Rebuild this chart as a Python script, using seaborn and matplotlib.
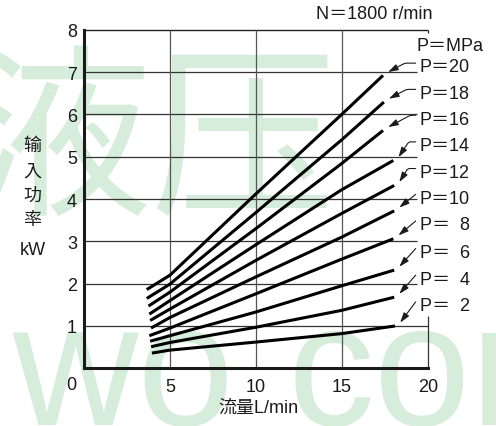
import matplotlib
matplotlib.use("Agg")
import matplotlib.pyplot as plt
import numpy as np
import pandas as pd
import seaborn as sns

# ---- data: input power (kW) vs flow (L/min) at N = 1800 r/min ----
pressures = [20, 18, 16, 14, 12, 10, 8, 6, 4, 2]          # MPa
flow_start = [3.65, 3.65, 3.75, 3.8, 3.85, 3.9, 3.8, 3.85, 3.9, 3.95]
flow_grid = [5, 10, 15]
flow_end = [17.4, 17.45, 17.4, 18.0, 18.05, 18.05, 18.0, 18.05, 18.05, 18.1]

power_p20 = [1.86, 2.20, 4.12, 6.00, 6.92]
power_p18 = [1.65, 1.99, 3.68, 5.40, 6.29]
power_p16 = [1.47, 1.80, 3.30, 4.84, 5.62]
power_p14 = [1.28, 1.60, 2.92, 4.22, 4.91]
power_p12 = [1.13, 1.40, 2.55, 3.66, 4.32]
power_p10 = [0.95, 1.20, 2.16, 3.10, 3.72]
power_p8 = [0.77, 0.95, 1.76, 2.58, 3.06]
power_p6 = [0.64, 0.77, 1.33, 1.95, 2.32]
power_p4 = [0.51, 0.61, 0.97, 1.37, 1.68]
power_p2 = [0.36, 0.43, 0.62, 0.82, 1.00]

curve_labels = ["P＝20", "P＝18", "P＝16", "P＝14", "P＝12",
                "P＝10", "P＝\u20078", "P＝\u20076", "P＝\u20074", "P＝\u20072"]
x_ticks = [5, 10, 15, 20]
y_ticks = [1, 2, 3, 4, 5, 6, 7, 8]

powers = [power_p20, power_p18, power_p16, power_p14, power_p12,
          power_p10, power_p8, power_p6, power_p4, power_p2]

rows = []
for p, fs, fe, pw in zip(pressures, flow_start, flow_end, powers):
    for f, v in zip([fs] + flow_grid + [fe], pw):
        rows.append({"flow": f, "power": v, "P": p})
df = pd.DataFrame(rows)

# ---- styling ----
sns.set_style("white")
plt.rcParams["font.family"] = ["Liberation Sans", "Noto Sans CJK JP", "DejaVu Sans"]
CJK = ["Noto Sans CJK JP", "DejaVu Sans"]
LAT = ["Liberation Sans", "Noto Sans CJK JP", "DejaVu Sans"]
INK = "#1a1a1a"

W, H = 496, 427
fig = plt.figure(figsize=(W / 100, H / 100), dpi=100)
ax = fig.add_axes([0.1694, 0.1351, 0.6929, 0.7930])
ax.patch.set_alpha(0)

# faint background watermark
wm = "#d6eddb"
fig.text(152 / W, 1 - 148 / H, "液压", fontsize=133, color=wm, ha="center",
         va="center", family=CJK, zorder=-2)
fig.text(12 / W, 1 - 425 / H, "wo", fontsize=125, color=wm, ha="left",
         va="baseline", family=LAT, zorder=-2)
fig.text(288 / W, 1 - 425 / H, "com", fontsize=125, color=wm, ha="left",
         va="baseline", family=LAT, zorder=-2)

ax.set_xlim(0, 20)
ax.set_ylim(0, 8)

# frame and grid
for s in ["top", "right"]:
    ax.spines[s].set_visible(False)
for s in ["left", "bottom"]:
    ax.spines[s].set_linewidth(2.2)
    ax.spines[s].set_color(INK)
    ax.spines[s].set_zorder(5)

for y in y_ticks[1:-1]:
    ax.hlines(y, 0, 19.35, color="#333333", lw=0.9, zorder=1)
ax.hlines(1, 0, 20, color="#333333", lw=0.9, zorder=1)
ax.hlines(8, 0, 20, color="#222222", lw=1.0, zorder=1, clip_on=False)
ax.vlines(20, 7.93, 8, color="#222222", lw=0.9, clip_on=False)
ax.vlines(20, 0, 1.24, color="#333333", lw=0.9, clip_on=False)
for x in x_ticks[:-1]:
    ax.vlines(x, 0, 8, color="#555555", lw=0.9, zorder=1)

# curves
sns.lineplot(data=df, x="flow", y="power", units="P", estimator=None,
             sort=False, color="black", lw=2.2, legend=False, ax=ax,
             solid_capstyle="butt", zorder=3)

# ticks
ax.set_xticks(x_ticks)
ax.set_yticks(y_ticks)
ax.set_xticks(np.arange(1, 20), minor=True)
ax.tick_params(axis="x", which="major", length=0, pad=7, labelsize=13,
               colors=INK)
ax.tick_params(axis="x", which="minor", direction="in", length=3.8,
               width=0.9, color=INK)
ax.tick_params(axis="y", which="major", length=0, pad=5, labelsize=13,
               colors=INK)
ax.set_xlabel("")
ax.set_ylabel("")
ax.annotate("0", xy=(0, 0), xytext=(-9, -12), textcoords="offset points",
            ha="center", va="center", fontsize=13, color=INK)

# axis titles
ax.text(-0.150, 0.549, "输\n入\n功\n率", transform=ax.transAxes, ha="center",
        va="center", fontsize=13, family=CJK, linespacing=1.48, color=INK)
ax.text(-0.148, 0.352, "kW", transform=ax.transAxes, ha="center",
        va="center", fontsize=13, family=LAT, color=INK)
ax.text(0.506, -0.115, "流量L/min", transform=ax.transAxes, ha="center",
        va="center", fontsize=13, family=LAT, color=INK)
ax.text(20.3, 8.375, "N＝1800 r/min", ha="right", va="center", fontsize=13,
        family=LAT, color=INK, clip_on=False)
ax.text(19.37, 7.63, "P＝MPa", ha="left", va="center", fontsize=13,
        family=LAT, color=INK, clip_on=False)

# curve labels with arrows pointing at each curve end
label_y = [7.12, 6.50, 5.89, 5.26, 4.63, 4.02, 3.39, 2.74, 2.11, 1.48]
bend = [28, 28, 28, 56, 58, None, None, None, None, None]
for lab, ly, fe, pw, bd in zip(curve_labels, label_y, flow_end, powers, bend):
    ax.text(19.53, ly, lab, ha="left", va="center", fontsize=13,
            family=LAT, color=INK, clip_on=False)
    cs = "arc3,rad=0" if bd is None else f"angle,angleA=0,angleB={bd},rad=2"
    ax.annotate("", xy=(fe + 0.3, pw[-1] + 0.08), xytext=(19.3, ly + 0.09),
                arrowprops=dict(arrowstyle="-|>,head_length=0.5,head_width=0.16",
                                connectionstyle=cs, color=INK, lw=0.8,
                                mutation_scale=12, shrinkA=0, shrinkB=0),
                annotation_clip=False)

fig.savefig("out.png", dpi=100, facecolor="white")
